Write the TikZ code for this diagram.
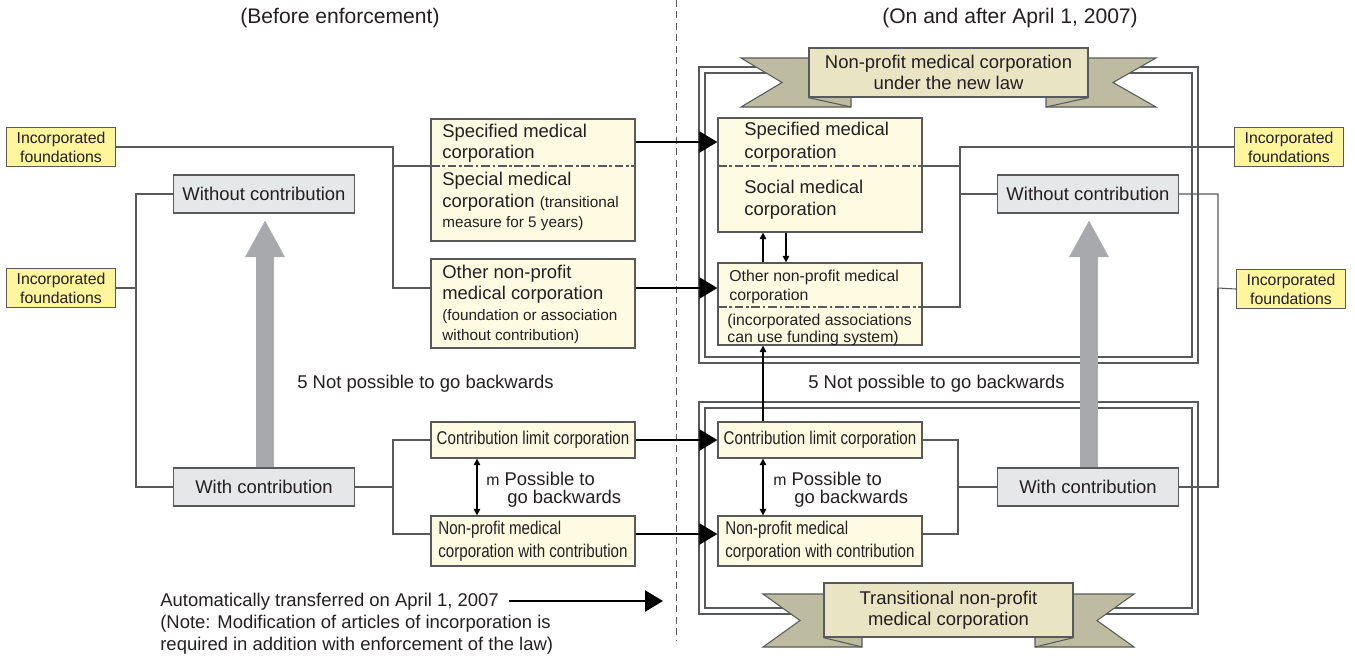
\documentclass[tikz,border=0pt]{standalone}
\usepackage{fontspec}
\setmainfont{Liberation Sans}
\usepackage{graphicx}
\usetikzlibrary{arrows.meta}
\usetikzlibrary{fit}
\definecolor{linegray}{HTML}{58595B}
\definecolor{foundfill}{HTML}{FFF59D}
\definecolor{creamfill}{HTML}{FFFBE3}
\definecolor{boxgray}{HTML}{E6E7E8}
\definecolor{arrowgray}{HTML}{A7A9AC}
\definecolor{ribbonlight}{HTML}{E8E4C4}
\definecolor{ribbondark}{HTML}{BDBBA0}
\definecolor{inkblack}{HTML}{231F20}
\newcommand{\bodyfont}{\fontsize{10.5}{12.5}\selectfont}
\newcommand{\smallfont}{\fontsize{8.7}{10.5}\selectfont}
\newcommand{\narrow}[1]{\scalebox{0.82}[1]{#1}}
\tikzstyle{conn}=[draw=linegray, line width=0.6pt]
\tikzstyle{basebox}=[draw=linegray, line width=0.7pt, inner sep=0pt]
\tikzstyle{creambox}=[basebox, fill=creamfill]
\tikzstyle{graybox}=[basebox, fill=boxgray, minimum width=3.62cm, minimum height=0.76cm, font=\bodyfont]
\tikzstyle{foundbox}=[basebox, fill=foundfill, minimum width=2.18cm, minimum height=0.77cm, align=center, font=\fontsize{9}{10.8}\selectfont]
\tikzstyle{rowbox}=[creambox, minimum width=4.08cm, font=\bodyfont]
\tikzstyle{txt}=[inner sep=0pt, anchor=base west, font=\bodyfont]
\tikzstyle{dashdot}=[draw=linegray, line width=0.6pt, dash pattern=on 5pt off 1.5pt on 1.5pt off 1.5pt]
\tikzstyle{xfer}=[draw=black, line width=1.5pt, -{Triangle[length=0.36cm,width=0.42cm]}]
\tikzstyle{smallarrow}=[draw=black, line width=0.6pt, -{Triangle[length=0.13cm,width=0.13cm]}]
\tikzstyle{twoway}=[draw=black, line width=0.6pt, {Triangle[length=0.13cm,width=0.13cm]}-{Triangle[length=0.13cm,width=0.13cm]}]
\tikzstyle{bigup}=[draw=arrowgray, line width=0.36cm, -{Triangle[length=0.74cm,width=0.74cm]}]
\tikzstyle{dblframe}=[draw=linegray, line width=0.6pt]
\tikzstyle{flap}=[draw=linegray, line width=0.6pt, fill=ribbondark]
\tikzstyle{banner}=[draw=linegray, line width=0.7pt, fill=ribbonlight, align=center, font=\fontsize{10.5}{12}\selectfont, inner sep=0pt]
\tikzstyle{header}=[font=\fontsize{12}{14}\selectfont]

\begin{document}
\begin{tikzpicture}[x=0.02cm, y=-0.02cm, inkblack]
    \useasboundingbox (0,0) rectangle (1355,657);
    \node[header] (hdBefore) at (340,18) {(Before enforcement)};
    \node[header] (hdAfter) at (1010,18) {(On and after April 1, 2007)};
    \coordinate (divTop) at (676,0);
    \coordinate (divBot) at (676,640);
    \draw[linegray, line width=0.5pt, dash pattern=on 4pt off 2.5pt] (divTop) -- (divBot);

    \draw[dblframe] (699,67) rectangle (1198,363);
    \draw[dblframe] (705,73) rectangle (1192,357);
    \draw[dblframe] (699,402) rectangle (1198,614);
    \draw[dblframe] (705,408) rectangle (1192,608);

    % before enforcement
    \node[foundbox] (foundA) at (61,147) {Incorporated\\foundations};
    \node[foundbox] (foundB) at (61,288) {Incorporated\\foundations};
    \node[graybox] (freeL) at (264,194) {Without contribution};
    \node[graybox] (contribL) at (264,487) {With contribution};
    \node[creambox, fit={(431,119) (635,241)}] (specL) {};
    \node[creambox, fit={(431,259) (635,348)}] (otherL) {};
    \node[rowbox, minimum height=0.72cm] (limitL) at (533,440) {\narrow{Contribution limit corporation}};
    \node[rowbox, minimum height=1.0cm, align=left, font=\fontsize{10.5}{13}\selectfont] (withL) at (533,541) {\narrow{Non-profit medical}\\\narrow{corporation with contribution}};
    \coordinate (sepL) at (431,166);
    \draw[dashdot] (sepL) -- (specL.east |- sepL);
    \node[txt] (specLa) at (442,137) {Specified medical};
    \node[txt] (specLb) at (442,158) {corporation};
    \node[txt] (specLc) at (442,185) {Special medical};
    \node[txt] (specLd) at (442,207) {corporation {\smallfont(transitional}};
    \node[txt, font=\smallfont] (specLe) at (442,227) {measure for 5 years)};
    \node[txt] (otherLa) at (442,278) {Other non-profit};
    \node[txt] (otherLb) at (442,299) {medical corporation};
    \node[txt, font=\smallfont] (otherLc) at (442,320) {(foundation or association};
    \node[txt, font=\smallfont] (otherLd) at (442,340) {without contribution)};

    % on and after
    \node[foundbox] (foundC) at (1289,147) {Incorporated\\foundations};
    \node[foundbox] (foundD) at (1291,289) {Incorporated\\foundations};
    \node[graybox] (freeR) at (1088,194) {Without contribution};
    \node[graybox] (contribR) at (1088,487) {With contribution};
    \node[creambox, fit={(718,118) (922,232)}] (specR) {};
    \node[creambox, fit={(718,263) (922,345)}] (otherR) {};
    \node[rowbox, minimum height=0.72cm] (limitR) at (820,440) {\narrow{Contribution limit corporation}};
    \node[rowbox, minimum height=1.0cm, align=left, font=\fontsize{10.5}{13}\selectfont] (withR) at (820,541) {\narrow{Non-profit medical}\\\narrow{corporation with contribution}};
    \coordinate (sepR) at (718,166);
    \coordinate (sepO) at (718,307);
    \draw[dashdot] (sepR) -- (specR.east |- sepR);
    \draw[dashdot] (sepO) -- (otherR.east |- sepO);
    \node[txt] (specRa) at (744,135) {Specified medical};
    \node[txt] (specRb) at (744,158) {corporation};
    \node[txt] (specRc) at (744,193) {Social medical};
    \node[txt] (specRd) at (744,215) {corporation};
    \node[txt, font=\fontsize{9}{11}\selectfont] (otherRa) at (729,281) {Other non-profit medical};
    \node[txt, font=\fontsize{9}{11}\selectfont] (otherRb) at (729,300) {corporation};
    \node[txt, font=\fontsize{9}{11}\selectfont] (otherRc) at (727,325) {(incorporated associations};
    \node[txt, font=\fontsize{9}{11}\selectfont] (otherRd) at (727,342) {can use funding system)};

    % connectors
    \coordinate (busL) at (393,166);
    \coordinate (otherIn) at (431,288);
    \draw[conn] (foundA.east) -| (busL) -- (sepL);
    \draw[conn] (busL) |- (otherIn);
    \coordinate (busFree) at (136,288);
    \draw[conn] (freeL.west) -| (busFree) -- (foundB.east);
    \draw[conn] (busFree) |- (contribL.west);
    \coordinate (busCon) at (393,487);
    \coordinate (withIn) at (431,534);
    \draw[conn] (contribL.east) -- (busCon);
    \draw[conn] (limitL.west) -| (busCon) |- (withIn);

    \coordinate (busSpec) at (960,166);
    \draw[conn] (specR.east |- sepR) -- (busSpec);
    \draw[conn] (foundC.west) -| (busSpec);
    \draw[conn] (busSpec) |- (otherR.east |- sepO);
    \draw[conn] (freeR.west) -- (freeR.west -| busSpec);
    \coordinate (busFreeR) at (1218,288);
    \draw[conn] (freeR.east) -| (busFreeR) -- (foundD.west);
    \draw[conn] (busFreeR) |- (contribR.east);
    \coordinate (busConR) at (958,487);
    \coordinate (withOut) at (922,534);
    \draw[conn] (limitR.east) -| (busConR) |- (withOut);
    \draw[conn] (busConR) -- (contribR.west);

    % transfers
    \coordinate (rowA) at (0,142);
    \coordinate (rowB) at (0,288);
    \coordinate (rowD) at (0,534);
    \draw[xfer] (specL.east |- rowA) -- (specR.west |- rowA);
    \draw[xfer] (otherL.east |- rowB) -- (otherR.west |- rowB);
    \draw[xfer] (limitL.east) -- (limitR.west);
    \draw[xfer] (withL.east |- rowD) -- (withR.west |- rowD);

    \coordinate (colA) at (763,0);
    \coordinate (colB) at (786,0);
    \coordinate (colL) at (477,0);
    \draw[smallarrow] (colA |- otherR.north) -- (colA |- specR.south);
    \draw[smallarrow] (colB |- specR.south) -- (colB |- otherR.north);
    \draw[smallarrow] (colA |- limitR.north) -- (colA |- otherR.south);
    \draw[twoway] (colL |- limitL.south) -- (colL |- withL.north);
    \draw[twoway] (colA |- limitR.south) -- (colA |- withR.north);
    \node[txt] (backLa) at (486,485) {{\fontsize{9}{9}\selectfont m} Possible to};
    \node[txt] (backLb) at (507,503) {go backwards};
    \node[txt] (backRa) at (773,485) {{\fontsize{9}{9}\selectfont m} Possible to};
    \node[txt] (backRb) at (794,503) {go backwards};
    \node[txt] (noBackL) at (297,388) {5 Not possible to go backwards};
    \node[txt] (noBackR) at (808,388) {5 Not possible to go backwards};

    \coordinate (tipL) at (265,220);
    \coordinate (tipR) at (1089,220);
    \draw[bigup] (contribL.north -| tipL) -- (tipL);
    \draw[bigup] (contribR.north -| tipR) -- (tipR);

    % banners
    \draw[flap] (741,58) -- (851,58) -- (851,107) -- (741,107) -- (782,82.5) -- cycle;
    \draw[flap] (1156,58) -- (1046,58) -- (1046,107) -- (1156,107) -- (1113,82.5) -- cycle;
    \node[banner, minimum width=5.58cm, minimum height=0.98cm] (newLaw) at (948.5,72.5) {Non-profit medical corporation\\under the new law};
    \draw[linegray, line width=0.6pt] (newLaw.south west) -- (851,107);
    \draw[linegray, line width=0.6pt] (newLaw.south east) -- (1046,107);
    \draw[flap] (763,594) -- (862,594) -- (862,647) -- (763,647) -- (800,620.5) -- cycle;
    \draw[flap] (1134,594) -- (1035,594) -- (1035,647) -- (1134,647) -- (1097,620.5) -- cycle;
    \node[banner, minimum width=4.98cm, minimum height=1.08cm] (interim) at (948.5,610) {Transitional non-profit\\medical corporation};
    \draw[linegray, line width=0.6pt] (interim.south west) -- (862,647);
    \draw[linegray, line width=0.6pt] (interim.south east) -- (1035,647);

    \node[txt] (autoTxt) at (160,606) {Automatically transferred on April 1, 2007};
    \coordinate (autoEnd) at (663,601);
    \draw[xfer, shorten <=0.2cm] (autoTxt.east |- autoEnd) -- (autoEnd);
    \node[txt] (noteA) at (160,628) {(Note: Modification of articles of incorporation is};
    \node[txt] (noteB) at (160,650) {required in addition with enforcement of the law)};
\end{tikzpicture}
\end{document}
